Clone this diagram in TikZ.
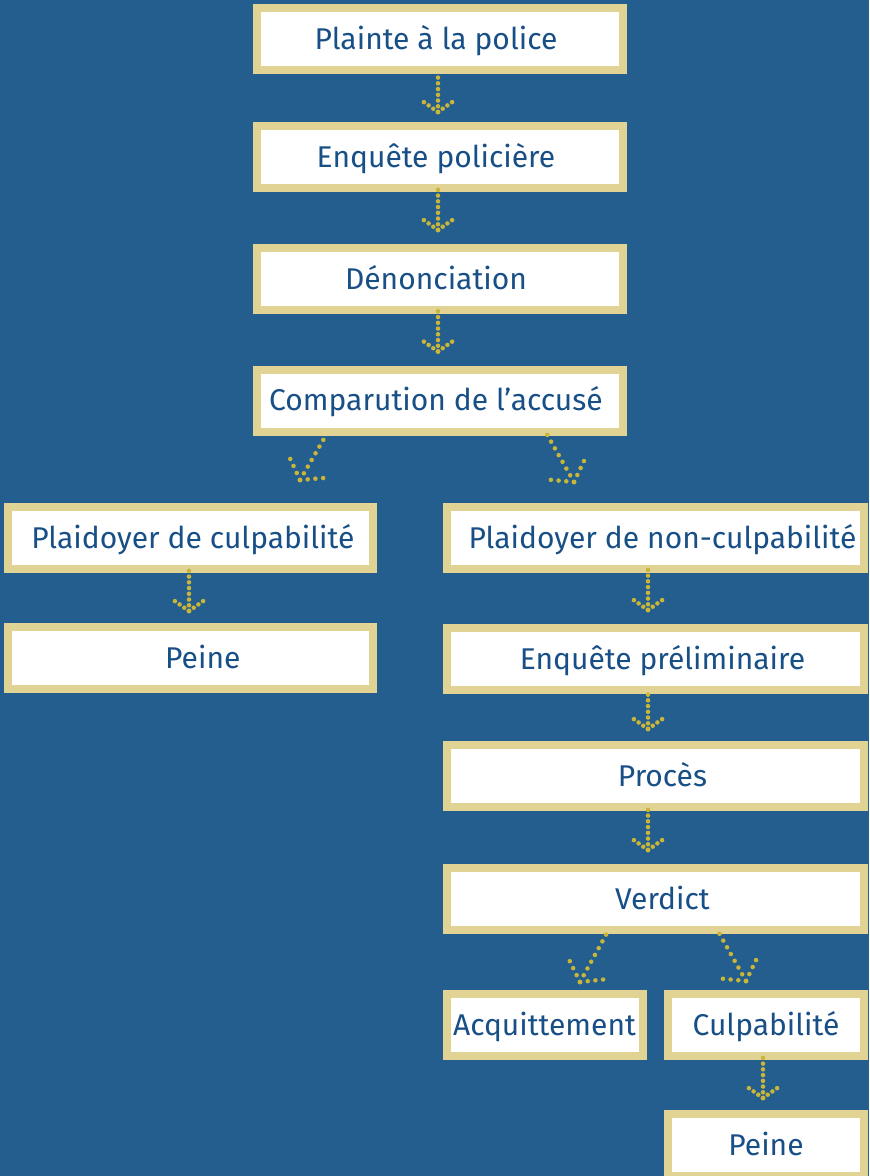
\documentclass[tikz,border=0pt]{standalone}
\usepackage{fontspec}
\setmainfont{Fira Sans}
\usetikzlibrary{calc}

\definecolor{bgblue}{HTML}{235E8F}
\definecolor{boxgold}{HTML}{E0D394}
\definecolor{textblue}{HTML}{174F86}
\definecolor{dotgold}{HTML}{C9B53A}

\newcommand{\BoxH}{46.5pt}
\newcommand{\MainW}{274.5pt}
\newcommand{\LeftW}{273.75pt}
\newcommand{\RightW}{312.75pt}
\newcommand{\SmallW}{147pt}
\newcommand{\StepV}{4.3pt}
\newcommand{\WingV}{13.4pt}
\newcommand{\StepD}{5.8pt}
\newcommand{\WingD}{17.9pt}

% dotted arrow: tail, tip, dot spacing, wing length
\newcommand{\dotarrow}[4]{%
  \draw[dotline, dash pattern=on 0pt off #3] (#2) -- (#1);
  \draw[dotline, dash pattern=on 0pt off #3] (#2) -- ($(#2)!#4!55:(#1)$);
  \draw[dotline, dash pattern=on 0pt off #3] (#2) -- ($(#2)!#4!-55:(#1)$);
}

\begin{document}
\begin{tikzpicture}[
  x = 0.75pt, y = -0.75pt,
  stepbox/.style={draw=boxgold, line width=6pt, fill=white, text=textblue,
    inner sep=0pt, minimum height=\BoxH, text height=19.1pt, text depth=3.4pt,
    font=\fontsize{22.5}{27}\selectfont},
  mainbox/.style={stepbox, minimum width=\MainW, execute at end node=\hspace*{6pt}},
  leftbox/.style={stepbox, minimum width=\LeftW, execute at begin node=\hspace*{3.5pt}},
  rightbox/.style={stepbox, minimum width=\RightW, execute at begin node=\hspace*{10.5pt}},
  smallbox/.style={stepbox, minimum width=\SmallW},
  dotline/.style={dotgold, line width=3.4pt, line cap=round}
  ]

	%background
	\useasboundingbox (0,0) rectangle (869,1176);
	\fill[bgblue] (0,0) rectangle (869,1176);
	\clip (0,0) rectangle (869,1176);

	%draw the main column
	\node[mainbox] (plainte) at (440,39.5) {Plainte à la police};
	\node[mainbox] (enquete) at (440,157) {Enquête policière};
	\node[mainbox] (denon) at (440,279) {Dénonciation};
	\node[mainbox] (comp) at (440,400.5) {Comparution de l’accusé};

	%draw the left branch
	\node[leftbox] (pc) at (190.5,538) {Plaidoyer de culpabilité};
	\node[leftbox] (peineA) at (190.5,658) {\hspace*{15pt}Peine};

	%draw the right branch
	\node[rightbox] (pnc) at (655.5,538) {Plaidoyer de non-culpabilité};
	\node[rightbox] (prelim) at (655.5,659) {Enquête préliminaire};
	\node[rightbox] (proces) at (655.5,776) {Procès};
	\node[rightbox] (verdict) at (655.5,899) {Verdict};
	\node[smallbox] (acq) at (544.5,1025) {Acquittement};
	\node[smallbox] (culp) at (766,1025) {Culpabilité};
	\node[smallbox] (peineB) at (766,1145) {Peine};

	%free ends of the arrows
	\coordinate (t1) at ($(plainte.south)+(-2,-2)$);
	\coordinate (h1) at ($(enquete.north)+(-2,-10)$);
	\coordinate (t2) at ($(enquete.south)+(-2,-3)$);
	\coordinate (h2) at ($(denon.north)+(-2,-14)$);
	\coordinate (t3) at ($(denon.south)+(-2,-3)$);
	\coordinate (h3) at ($(comp.north)+(-2,-14)$);
	\coordinate (t4) at ($(comp.south)+(-113,-2)$);
	\coordinate (h4) at ($(pc.north)+(109.5,-23)$);
	\coordinate (t5) at ($(comp.south)+(107,-1)$);
	\coordinate (h5) at ($(pnc.north)+(-81.5,-21)$);
	\coordinate (t6) at ($(pc.south)+(-1.5,-3)$);
	\coordinate (h6) at ($(peineA.north)+(-1.5,-12)$);
	\coordinate (t7) at ($(pnc.south)+(-7.5,-4)$);
	\coordinate (h7) at ($(prelim.north)+(-7.5,-14)$);
	\coordinate (t8) at ($(prelim.south)+(-7.5,-3)$);
	\coordinate (h8) at ($(proces.north)+(-7.5,-12)$);
	\coordinate (t9) at ($(proces.south)+(-7.5,-3)$);
	\coordinate (h9) at ($(verdict.north)+(-7.5,-14)$);
	\coordinate (t10) at ($(verdict.south)+(-48.5,-1)$);
	\coordinate (h10) at ($(acq.north)+(35.5,-8)$);
	\coordinate (t11) at ($(verdict.south)+(63.5,-1)$);
	\coordinate (h11) at ($(culp.north)+(-20,-9)$);
	\coordinate (t12) at ($(culp.south)+(-3,-3)$);
	\coordinate (h12) at ($(peineB.north)+(-3,-12)$);

	%draw the straight arrows
	\foreach \i in {1,2,3,6,7,8,9,12}
		{\dotarrow{t\i}{h\i}{\StepV}{\WingV}}

	%draw the slanted arrows
	\foreach \i in {4,5,10,11}
		{\dotarrow{t\i}{h\i}{\StepD}{\WingD}}

\end{tikzpicture}
\end{document}
